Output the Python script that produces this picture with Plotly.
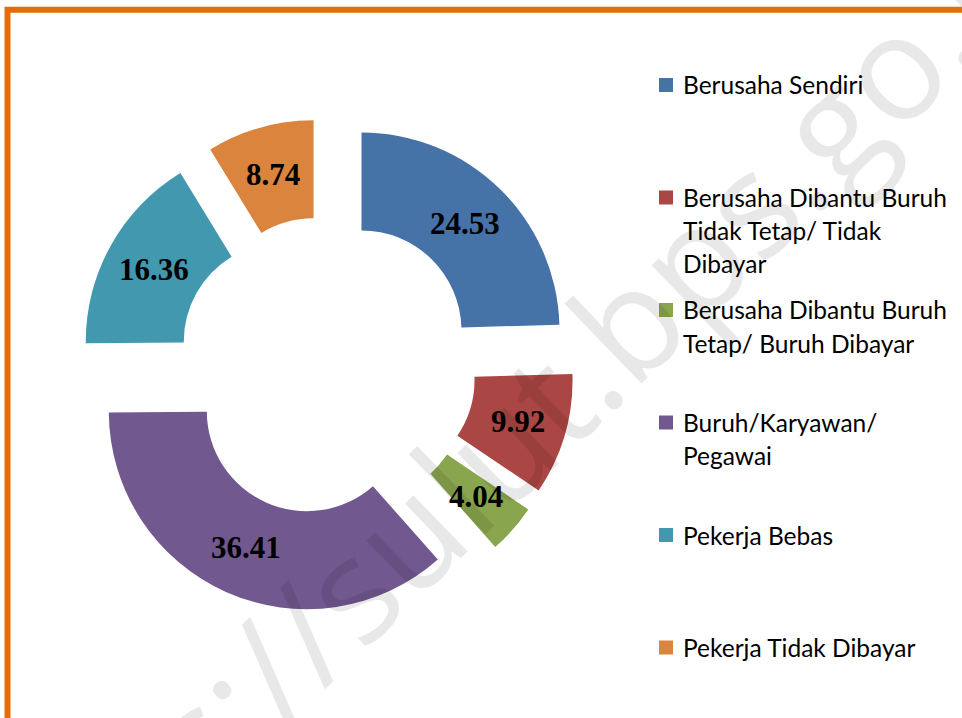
import math
import plotly.graph_objects as go

# ---------------- data ----------------
labels = [
    "Berusaha Sendiri",
    "Berusaha Dibantu Buruh<br>Tidak Tetap/ Tidak<br>Dibayar",
    "Berusaha Dibantu Buruh<br>Tetap/ Buruh Dibayar",
    "Buruh/Karyawan/<br>Pegawai",
    "Pekerja Bebas",
    "Pekerja Tidak Dibayar",
]
values = [24.53, 9.92, 4.04, 36.41, 16.36, 8.74]
value_text = ["24.53", "9.92", "4.04", "36.41", "16.36", "8.74"]
colors = ["#4572A7", "#AA4643", "#89A54E", "#71588F", "#4198AF", "#DB843D"]
watermark = "https://sulut.bps.go.id"

# ---------------- layout constants (pixels) ----------------
W, H = 962, 718
HOLE = 0.505
PULL = 0.25
CX, CY = 327, 366          # pie centre
R = 198                    # outer radius
half = R * (1 + PULL)
dom_x = [(CX - half) / W, (CX + half) / W]
dom_y = [(H - CY - half) / H, (H - CY + half) / H]


def px(x):
    return x / W


def py(y):
    return 1 - y / H


fig = go.Figure()
fig.add_trace(go.Pie(
    labels=[l.replace("<br>", " ") for l in labels],
    values=values,
    marker=dict(colors=colors, line=dict(width=0)),
    hole=HOLE,
    pull=PULL,
    sort=False,
    direction="clockwise",
    rotation=0,
    textinfo="none",
    domain=dict(x=dom_x, y=dom_y),
    showlegend=False,
    hoverinfo="label+value",
))

annotations = []
# watermark (semi-transparent, above the slices)
annotations.append(dict(
    text=watermark, x=px(501), y=py(440), xref="paper", yref="paper",
    xanchor="center", yanchor="middle", showarrow=False, textangle=-44,
    font=dict(family="Open Sans", size=146, color="rgba(0,0,0,0.09)"),
))

# value labels placed at the middle of each (pulled) ring segment
total = sum(values)
cum = 0.0
r_mid = R * (1 + HOLE) / 2
for v, t in zip(values, value_text):
    theta = 2 * math.pi * (cum + v / 2) / total
    cum += v
    dist = PULL * R + r_mid
    x = CX + dist * math.sin(theta)
    y = CY - dist * math.cos(theta)
    annotations.append(dict(
        text=t, x=px(x), y=py(y), xref="paper", yref="paper",
        xanchor="center", yanchor="middle", showarrow=False,
        font=dict(family="Liberation Serif", size=31, color="black", weight="bold"),
    ))

# legend
LEG_SQ_X0, LEG_SQ = 659, 14
LEG_TX = 681
LEG_Y0, LEG_STEP, LINE_STEP = 85, 112.5, 33
shapes = []
for i, (lab, col) in enumerate(zip(labels, colors)):
    yc = LEG_Y0 + i * LEG_STEP
    shapes.append(dict(
        type="rect", xref="paper", yref="paper",
        x0=px(LEG_SQ_X0), x1=px(LEG_SQ_X0 + LEG_SQ),
        y0=py(yc - LEG_SQ / 2), y1=py(yc + LEG_SQ / 2),
        fillcolor=col, line=dict(width=0),
    ))
    for k, line in enumerate(lab.split("<br>")):
        annotations.append(dict(
            text=line, x=px(LEG_TX), y=py(yc + k * LINE_STEP),
            xref="paper", yref="paper", xanchor="left", yanchor="middle",
            showarrow=False,
            font=dict(family="Lato", size=24.5, color="black"),
        ))

# orange frame (right and bottom sides lie outside the view)
shapes.append(dict(
    type="rect", xref="paper", yref="paper",
    x0=px(7.5), x1=px(1000), y0=py(9.7), y1=py(780),
    line=dict(color="#E46C0A", width=6), fillcolor="rgba(0,0,0,0)",
))

fig.update_layout(
    width=W, height=H,
    margin=dict(l=0, r=0, t=0, b=0),
    paper_bgcolor="white", plot_bgcolor="white",
    annotations=annotations,
    shapes=shapes,
)

fig.write_html(
    "out.html",
    config={"displayModeBar": False},
    post_script="document.body.style.margin='0';document.body.style.overflow='hidden';",
)
